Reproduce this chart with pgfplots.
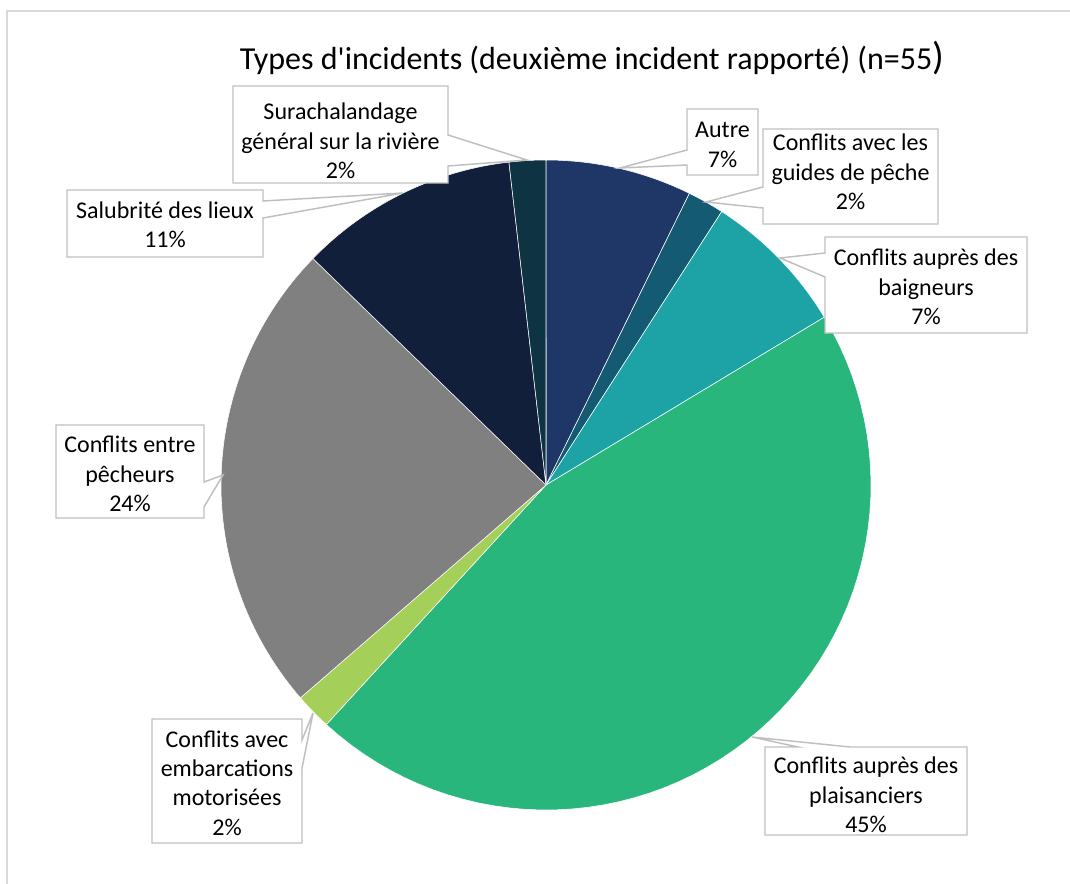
\documentclass[border=0pt]{standalone}
\usepackage{pgfplots}
\pgfplotsset{compat=1.18}
\usepackage{fontspec}
\setmainfont{Carlito}
\definecolor{cAutre}{HTML}{1F3767}
\definecolor{cGuides}{HTML}{145A72}
\definecolor{cBaign}{HTML}{1DA3A6}
\definecolor{cPlais}{HTML}{28B67C}
\definecolor{cEmb}{HTML}{A4D05A}
\definecolor{cPech}{HTML}{808080}
\definecolor{cSalub}{HTML}{121F3A}
\definecolor{cSurach}{HTML}{0E3444}
\definecolor{cBox}{HTML}{BFBFBF}
\begin{document}
\begin{tikzpicture}
% counts (n=55): Autre 4, guides 1, baigneurs 4, plaisanciers 25, embarcations 1, pecheurs 13, salubrite 6, surachalandage 1
\begin{axis}[scale only axis, width=802.5pt, height=663pt,
  xmin=0, xmax=1070, ymin=0, ymax=884, y dir=reverse,
  hide axis, clip=false]
\pgfplotsset{wedge/.style={draw=white, line width=0.4pt, samples=60}}
\addplot[wedge, fill=cAutre,  domain={360*0/55}:{360*4/55}]   ({546+325*sin(x)},{485-325*cos(x)}) -- (axis cs:546,485) -- cycle;
\addplot[wedge, fill=cGuides, domain={360*4/55}:{360*5/55}]   ({546+325*sin(x)},{485-325*cos(x)}) -- (axis cs:546,485) -- cycle;
\addplot[wedge, fill=cBaign,  domain={360*5/55}:{360*9/55}]   ({546+325*sin(x)},{485-325*cos(x)}) -- (axis cs:546,485) -- cycle;
\addplot[wedge, fill=cPlais,  domain={360*9/55}:{360*34/55}]  ({546+325*sin(x)},{485-325*cos(x)}) -- (axis cs:546,485) -- cycle;
\addplot[wedge, fill=cEmb,    domain={360*34/55}:{360*35/55}] ({546+325*sin(x)},{485-325*cos(x)}) -- (axis cs:546,485) -- cycle;
\addplot[wedge, fill=cPech,   domain={360*35/55}:{360*48/55}] ({546+325*sin(x)},{485-325*cos(x)}) -- (axis cs:546,485) -- cycle;
\addplot[wedge, fill=cSalub,  domain={360*48/55}:{360*54/55}] ({546+325*sin(x)},{485-325*cos(x)}) -- (axis cs:546,485) -- cycle;
\addplot[wedge, fill=cSurach, domain={360*54/55}:{360*55/55}] ({546+325*sin(x)},{485-325*cos(x)}) -- (axis cs:546,485) -- cycle;

% frame
\draw[color=black!15, line width=1.2pt] (axis cs:7,884) -- (axis cs:7,11) -- (axis cs:1070,11);

% title
\node[font=\fontsize{24}{28}\selectfont] at (axis cs:592,58) {Types d\textquotesingle incidents (deuxième incident rapporté) (n=55{\fontsize{29}{29}\selectfont)}};

\tikzset{callout/.style={draw=cBox, fill=white, line width=1.1pt, line join=miter},
  lbl/.style={font=\fontsize{18}{22}\selectfont, align=center, inner sep=0pt}}

% Surachalandage
\draw[callout] (axis cs:233,86) -- (axis cs:448,86) -- (axis cs:448,135) -- (axis cs:527,160) -- (axis cs:448,166) -- (axis cs:448,183) -- (axis cs:233,183) -- cycle;
\node[lbl] at (axis cs:340.5,141) {Surachalandage\\général sur la rivière\\2\%};
% Salubrite
\draw[callout] (axis cs:67,190) -- (axis cs:263,190) -- (axis cs:263,201) -- (axis cs:403,193) -- (axis cs:263,218) -- (axis cs:263,257) -- (axis cs:67,257) -- cycle;
\node[lbl] at (axis cs:165,225) {Salubrité des lieux\\11\%};
% Autre
\draw[callout] (axis cs:687,109) -- (axis cs:758,109) -- (axis cs:758,175) -- (axis cs:687,175) -- (axis cs:687,165) -- (axis cs:620,168) -- (axis cs:687,150) -- cycle;
\node[lbl] at (axis cs:722.5,145) {Autre\\7\%};
% Guides
\draw[callout] (axis cs:763,129) -- (axis cs:938,129) -- (axis cs:938,224) -- (axis cs:763,224) -- (axis cs:763,208) -- (axis cs:706,202) -- (axis cs:763,187) -- cycle;
\node[lbl] at (axis cs:850.5,172) {Conflits avec les\\guides de pêche\\2\%};
% Baigneurs
\draw[callout] (axis cs:825,237) -- (axis cs:1027,237) -- (axis cs:1027,333) -- (axis cs:825,333) -- (axis cs:825,277) -- (axis cs:780,258) -- (axis cs:825,253) -- cycle;
\node[lbl] at (axis cs:926,287) {Conflits auprès des\\baigneurs\\7\%};
% Plaisanciers
\draw[callout] (axis cs:765,747) -- (axis cs:798,747) -- (axis cs:752,737) -- (axis cs:850,747) -- (axis cs:967,747) -- (axis cs:967,835) -- (axis cs:765,835) -- cycle;
\node[lbl] at (axis cs:866,795) {Conflits auprès des\\plaisanciers\\45\%};
% Embarcations
\draw[callout] (axis cs:152,719) -- (axis cs:302,719) -- (axis cs:302,740) -- (axis cs:313,713) -- (axis cs:302,768) -- (axis cs:302,843) -- (axis cs:152,843) -- cycle;
\node[lbl] at (axis cs:227,783) {Conflits avec\\embarcations\\motorisées\\2\%};
% Pecheurs
\draw[callout] (axis cs:56,425) -- (axis cs:204,425) -- (axis cs:204,482) -- (axis cs:223,475) -- (axis cs:204,507) -- (axis cs:204,518) -- (axis cs:56,518) -- cycle;
\node[lbl] at (axis cs:130,474) {Conflits entre\\pêcheurs\\24\%};
\end{axis}
\pgfresetboundingbox
\path[use as bounding box] (current axis.south west) rectangle (current axis.north east);
\end{tikzpicture}
\end{document}
